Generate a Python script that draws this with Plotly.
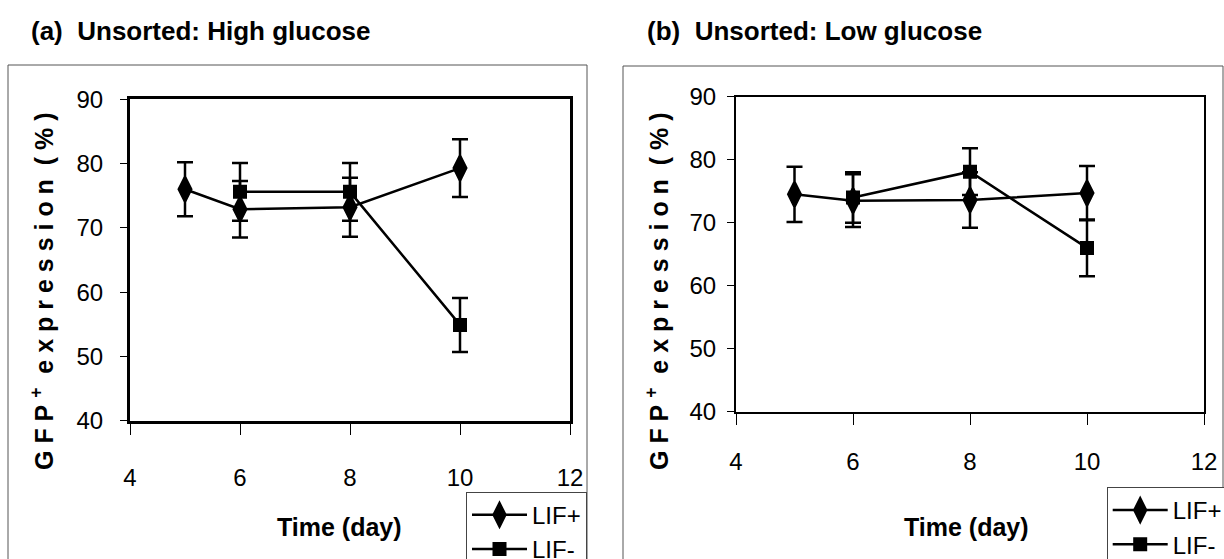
import plotly.graph_objects as go

# ---------------- data ----------------
days_a_plus = [5, 6, 8, 10]
a_plus = [76.0, 72.9, 73.2, 79.3]
a_plus_err = [4.2, 4.4, 4.6, 4.5]

days_a_minus = [6, 8, 10]
a_minus = [75.6, 75.6, 54.9]
a_minus_err = [4.5, 4.5, 4.2]

days_b_plus = [5, 6, 8, 10]
b_plus = [74.5, 73.5, 73.6, 74.7]
b_plus_err = [4.4, 4.2, 4.4, 4.3]

days_b_minus = [6, 8, 10]
b_minus = [74.0, 78.1, 66.0]
b_minus_err = [4.0, 3.7, 4.5]

x_ticks = [4, 6, 8, 10, 12]
y_ticks = [40, 50, 60, 70, 80, 90]
series_names = ["LIF+", "LIF-"]
panel_titles = ["(a)\u00a0 Unsorted: High glucose", "(b)\u00a0 Unsorted: Low glucose"]
y_title = "G\u00a0F\u00a0P\u00a0<sup>+</sup>\u00a0\u00a0e\u00a0x\u00a0p\u00a0r\u00a0e\u00a0s\u00a0s\u00a0i\u00a0o\u00a0n\u00a0\u00a0(\u00a0%\u00a0)"
x_title = "Time (day)"

W, H = 1224, 559
def px(x):
    return x / W
def py(y):
    return 1 - y / H

SANS = "Liberation Sans, Arial, sans-serif"

fig = go.Figure()

def add_series(xs, ys, errs, name, symbol, size, xa, ya, legend):
    fig.add_trace(go.Scatter(
        x=xs, y=ys, name=name, mode="lines+markers",
        xaxis=xa, yaxis=ya, legend=legend,
        line=dict(color="black", width=2.5),
        marker=dict(symbol=symbol, size=size, color="black",
                    line=dict(color="black", width=3)),
        error_y=dict(type="data", array=errs, visible=True,
                     color="black", thickness=2.5, width=8),
    ))

add_series(days_a_plus, a_plus, a_plus_err, series_names[0], "diamond-tall", 17, "x", "y", "legend")
add_series(days_a_minus, a_minus, a_minus_err, series_names[1], "square", 11, "x", "y", "legend")
add_series(days_b_plus, b_plus, b_plus_err, series_names[0], "diamond-tall", 17, "x2", "y2", "legend2")
add_series(days_b_minus, b_minus, b_minus_err, series_names[1], "square", 11, "x2", "y2", "legend2")

tickfont = dict(family=SANS, size=24, color="black")

def xax(domain, anchor, lw, standoff):
    return dict(domain=domain, anchor=anchor, range=[4, 12], tickvals=x_ticks,
                showgrid=False, zeroline=False, showline=True, mirror=True,
                linecolor="black", linewidth=lw, ticks="outside", ticklen=11,
                tickwidth=1, tickcolor="black", tickfont=tickfont,
                ticklabelstandoff=standoff)

def yax(domain, anchor, lw, standoff):
    return dict(domain=domain, anchor=anchor, range=[40, 90], tickvals=y_ticks,
                showgrid=False, zeroline=False, showline=True, mirror=True,
                linecolor="black", linewidth=lw, ticks="outside", ticklen=7,
                tickwidth=1, tickcolor="black", tickfont=tickfont,
                ticklabelstandoff=standoff)

legend_common = dict(xref="paper", yref="paper", xanchor="left", yanchor="top",
                     bgcolor="white", bordercolor="#444", borderwidth=1,
                     font=dict(family=SANS, size=24, color="black"),
                     tracegroupgap=0, itemwidth=55)

fig.update_layout(
    width=W, height=H,
    margin=dict(l=0, r=0, t=0, b=0, autoexpand=False),
    paper_bgcolor="white", plot_bgcolor="white",
    showlegend=True,
    xaxis=xax([px(130), px(570)], "y", 3, 22),
    yaxis=yax([py(420.7), py(99.3)], "x", 3, 12),
    xaxis2=xax([px(736), px(1204)], "y2", 2, 16),
    yaxis2=yax([py(411.7), py(96.7)], "x2", 2, 6),
    legend=dict(x=px(466), y=py(491.7), **legend_common),
    legend2=dict(x=px(1106.7), y=py(487), **legend_common),
    shapes=[
        dict(type="rect", xref="paper", yref="paper", x0=px(8), x1=px(587),
             y0=-0.05, y1=py(65), line=dict(color="#555", width=1), layer="below"),
        dict(type="rect", xref="paper", yref="paper", x0=px(623), x1=px(1223),
             y0=-0.05, y1=py(66), line=dict(color="#555", width=1), layer="below"),
    ],
)

annotations = []
for title, x0 in zip(panel_titles, [29, 645]):
    annotations.append(dict(text=title, x=px(x0), y=py(31), xref="paper", yref="paper",
                            xanchor="left", yanchor="middle", showarrow=False,
                            font=dict(family=SANS, size=26, color="black", weight=700)))
for xc in [42, 657]:
    annotations.append(dict(text=y_title, x=px(xc), y=py(291), xref="paper", yref="paper",
                            xanchor="center", yanchor="middle", showarrow=False, textangle=-90,
                            font=dict(family=SANS, size=25, color="black", weight=700)))
for xc in [339, 966]:
    annotations.append(dict(text=x_title, x=px(xc), y=py(527), xref="paper", yref="paper",
                            xanchor="center", yanchor="middle", showarrow=False,
                            font=dict(family=SANS, size=25, color="black", weight=700)))
fig.update_layout(annotations=annotations)

fig.write_html("out.html")
